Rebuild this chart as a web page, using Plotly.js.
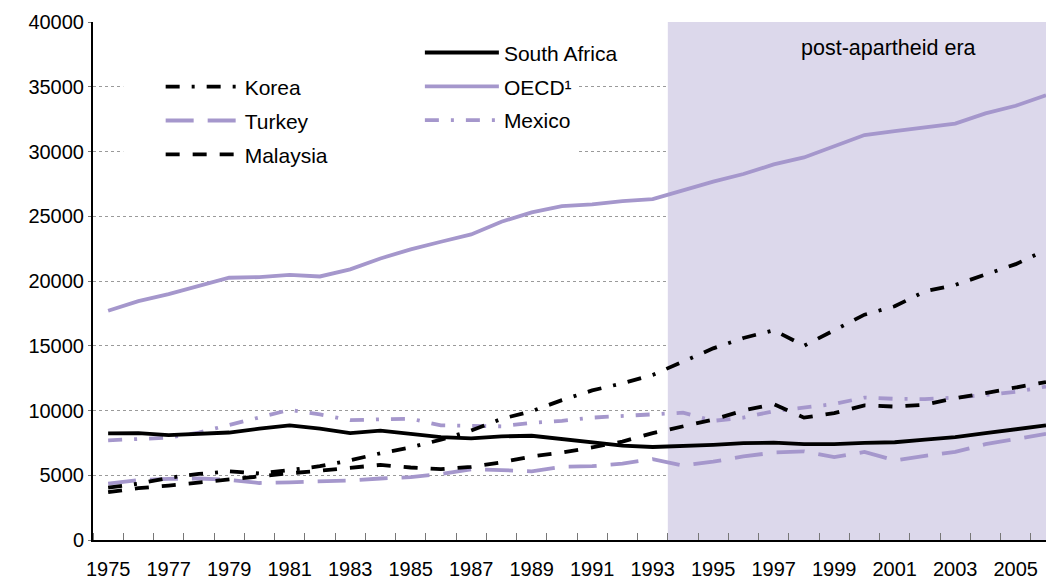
<!DOCTYPE html>
<html><head><meta charset="utf-8">
<script src="https://cdn.plot.ly/plotly-3.0.1.min.js"></script>
<style>html,body{margin:0;padding:0;background:#fff}#chart{width:1046px;height:579px}</style>
</head><body><div id="chart"></div>
<script>
const years = [1975,1976,1977,1978,1979,1980,1981,1982,1983,1984,1985,1986,1987,1988,1989,1990,1991,1992,1993,1994,1995,1996,1997,1998,1999,2000,2001,2002,2003,2004,2005,2006];
const southAfrica = [8240,8250,8100,8200,8300,8600,8850,8600,8250,8450,8180,7950,7850,8000,8050,7800,7550,7280,7180,7250,7350,7480,7520,7400,7400,7500,7550,7750,7950,8250,8550,8850];
const oecd = [17700,18450,18990,19600,20250,20300,20480,20350,20900,21740,22440,23030,23600,24580,25300,25780,25910,26170,26320,27000,27670,28260,29000,29540,30370,31270,31570,31860,32160,32940,33530,34350];
const mexico = [7700,7800,7900,8300,8900,9500,10050,9700,9250,9320,9370,8850,8820,8780,9050,9200,9450,9560,9650,9830,9200,9450,9950,10250,10500,11000,10900,10880,11000,11200,11450,11850];
const korea = [4050,4350,4800,5100,5300,5150,5400,5700,6150,6700,7150,7750,8450,9350,9950,10800,11550,12100,12750,13800,14800,15600,16200,15000,16200,17400,18050,19200,19700,20500,21300,22400];
const turkey = [4350,4630,4720,4750,4650,4400,4450,4500,4600,4750,4850,5100,5450,5400,5300,5650,5700,5900,6250,5750,6050,6450,6750,6850,6400,6800,6150,6500,6800,7400,7800,8200];
const malaysia = [3700,4000,4200,4450,4650,4900,5150,5350,5550,5800,5600,5470,5650,6000,6450,6750,7150,7600,8250,8800,9300,10000,10500,9450,9800,10400,10300,10450,10950,11350,11750,12200];
const tickYears = [1975,1977,1979,1981,1983,1985,1987,1989,1991,1993,1995,1997,1999,2001,2003,2005];
const tickLabels = ['1975','1977','1979','1981','1983','1985','1987','1989','1991','1993','1995','1997','1999','2001','2003','2005'];
const eraStart = 1993.5, eraEnd = 2006.5;

const PURPLE = '#a597cc';
const BLACK = '#000000';
const DASHDOT = '14px,12px,3px,12px';
const W = 3.8;

function tr(name, y, color, dash, legend, rank) {
  return {type:'scatter', mode:'lines', x: years, y: y, name: name,
    line:{color: color, width: W, dash: dash},
    legend: legend, legendrank: rank, legendgroup: 'g' + rank, hoverinfo:'skip'};
}
const data = [
  tr('OECD¹', oecd, PURPLE, 'solid', 'legend2', 2),
  tr('Turkey', turkey, PURPLE, '28px,14px', 'legend', 2),
  tr('Mexico', mexico, PURPLE, DASHDOT, 'legend2', 3),
  tr('Malaysia', malaysia, BLACK, '14px,13px', 'legend', 3),
  tr('Korea', korea, BLACK, DASHDOT, 'legend', 1),
  tr('South Africa', southAfrica, BLACK, 'solid', 'legend2', 1)
];

const FONT = '"Liberation Sans", Arial, Helvetica, sans-serif';
const legendCommon = {xanchor:'left', yanchor:'top', bgcolor:'rgba(0,0,0,0)', borderwidth:0,
  font:{family:FONT, size:21, color:'#000'}, itemwidth:74, tracegroupgap:3.5, traceorder:'grouped'};

const layout = {
  width:1046, height:579,
  margin:{l:93, r:0, t:22, b:39},
  paper_bgcolor:'#fff', plot_bgcolor:'#fff',
  font:{family:FONT, size:20, color:'#000'},
  showlegend:true,
  xaxis:{range:[1974.5, 2006.0], tickvals:tickYears, ticktext:tickLabels, ticks:'', showgrid:false,
    zeroline:false, showline:true, linecolor:'#000', linewidth:2, ticklabelstandoff:10,
    tickfont:{size:20},
    minor:{tick0:1974.5, dtick:1, ticks:'inside', ticklen:7, tickcolor:'#777', tickwidth:1, showgrid:false}},
  yaxis:{range:[0,40000], dtick:5000, tickformat:'d', showgrid:true, gridcolor:'#9a9a9a', griddash:'dot',
    gridwidth:1, zeroline:false, showline:true, linecolor:'#000', linewidth:2, ticks:'outside', ticklen:3,
    tickcolor:'#777', tickfont:{size:20}},
  legend: Object.assign({}, legendCommon, {x:0.071, y:0.914}),
  legend2: Object.assign({}, legendCommon, {x:0.343, y:0.98}),
  shapes:[
    {type:'rect', xref:'x', yref:'y', x0:eraStart, x1:eraEnd, y0:0, y1:40000, fillcolor:'#dcd8eb', line:{width:0}, layer:'between'},
    {type:'rect', xref:'x', yref:'y', x0:1975.5, x1:1990.5, y0:27500, y1:39000, fillcolor:'#ffffff', line:{width:0}, layer:'between'}
  ],
  annotations:[
    {text:'post-apartheid era', xref:'x', yref:'y', x:2000.8, y:38000, showarrow:false,
     font:{family:FONT, size:21.5, color:'#000'}}
  ]
};
Plotly.newPlot('chart', data, layout, {staticPlot:true, displayModeBar:false});
</script></body></html>
